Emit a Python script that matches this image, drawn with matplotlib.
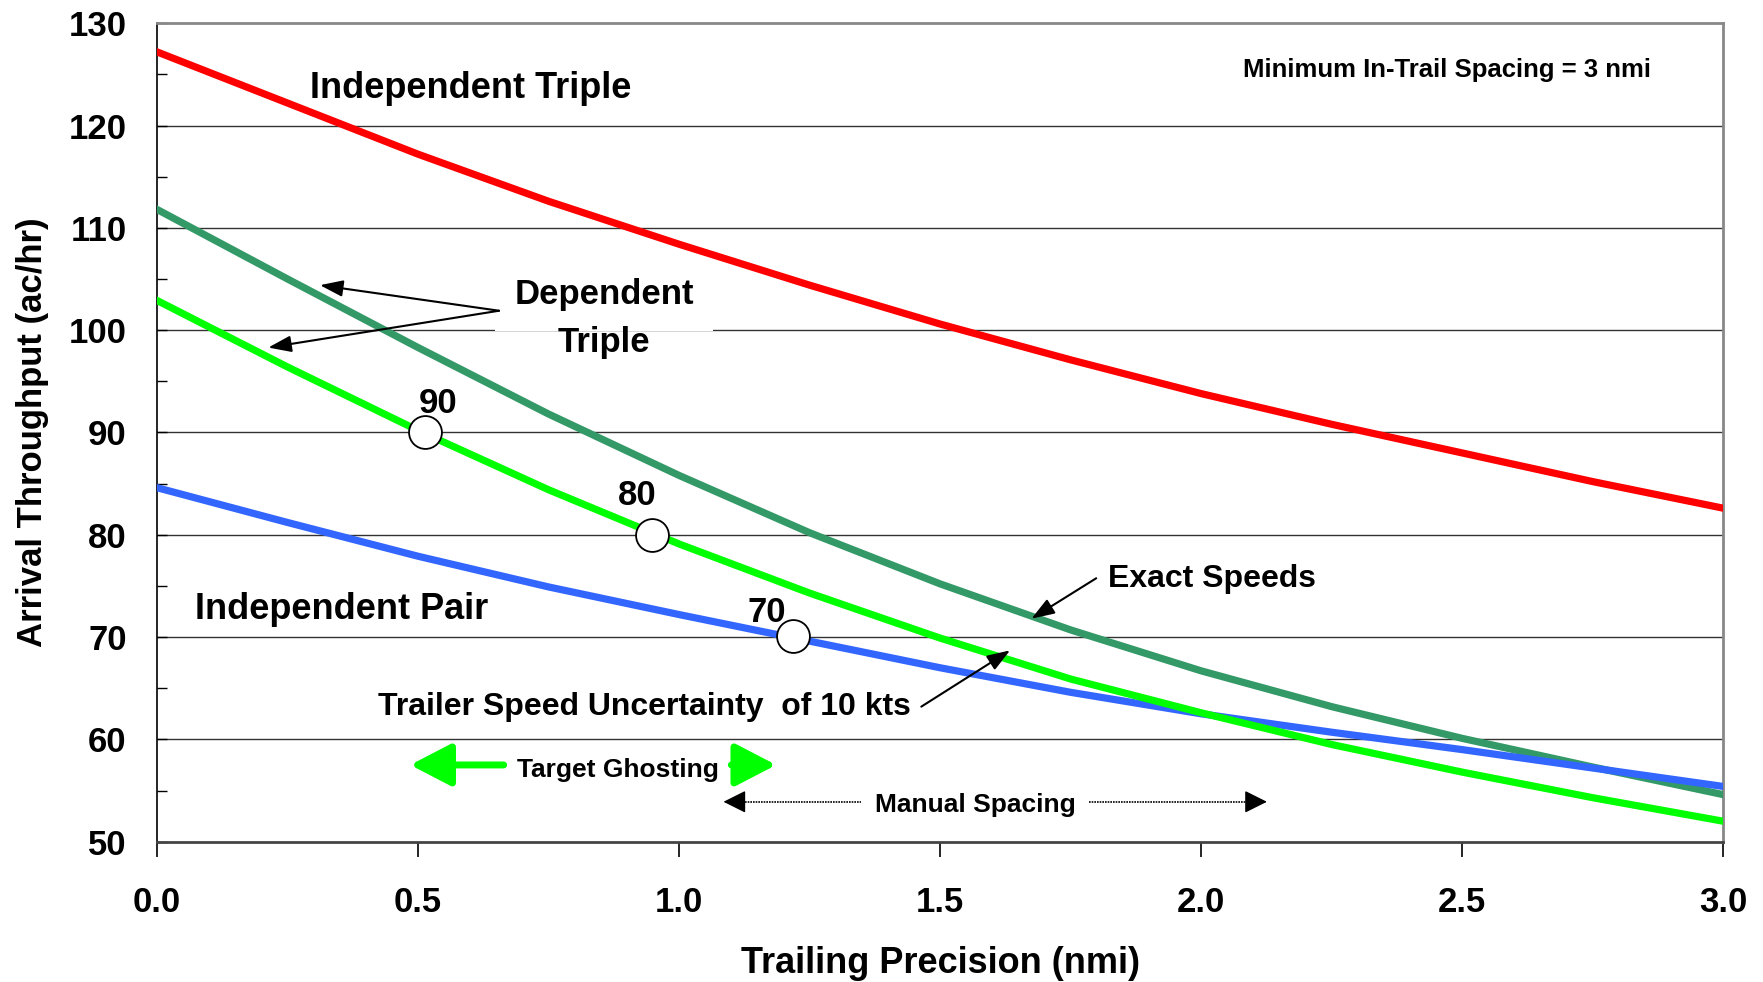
import matplotlib.pyplot as plt
from matplotlib.ticker import MultipleLocator

plt.rcParams['font.family'] = ['Liberation Sans', 'DejaVu Sans']
plt.rcParams['font.weight'] = 'bold'

# trailing precision (nmi)
x = [0.0, 0.25, 0.5, 0.75, 1.0, 1.25, 1.5, 1.75, 2.0, 2.25, 2.5, 2.75, 3.0]

# arrival throughput (ac/hr)
indep_triple = [127.2, 122.2, 117.2, 112.6, 108.4, 104.4, 100.6, 97.1, 93.8, 90.8, 88.0, 85.2, 82.6]
dep_exact = [111.8, 105.0, 98.3, 91.8, 85.8, 80.2, 75.2, 70.7, 66.7, 63.2, 60.1, 57.3, 54.6]
dep_uncert = [102.9, 96.4, 90.2, 84.4, 79.1, 74.3, 69.9, 65.9, 62.6, 59.5, 56.8, 54.3, 52.0]
indep_pair = [84.6, 81.2, 77.9, 74.9, 72.2, 69.6, 67.0, 64.6, 62.5, 60.7, 59.0, 57.2, 55.4]

# speed markers (kts) on the uncertainty / pair curves
mark_x = [0.513, 0.949, 1.219]
mark_y = [90.0, 80.0, 70.1]
mark_lab = ['90', '80', '70']

fig = plt.figure(figsize=(17.63, 9.82), dpi=100)
ax = fig.add_axes([0.0891, 0.1429, 0.8883, 0.8334])

ax.set_xlim(0, 3)
ax.set_ylim(50, 130)
for yv in range(60, 130, 10):
    ax.axhline(yv, color='#333333', lw=1.0, zorder=1)

ax.plot(x, indep_triple, color='#ff0000', lw=5.2, zorder=3)
ax.plot(x, dep_exact, color='#339966', lw=5.2, zorder=3)
ax.plot(x, indep_pair, color='#3366ff', lw=5.2, zorder=3)
ax.plot(x, dep_uncert, color='#00ff00', lw=5.2, zorder=3)

ax.scatter(mark_x, mark_y, s=560, facecolor='white', edgecolor='black', lw=1.3, zorder=5)
lab_x = [0.538, 0.920, 1.168]
lab_y = [91.9, 82.9, 71.5]
for lx, ly, lab in zip(lab_x, lab_y, mark_lab):
    ax.text(lx, ly, lab, fontsize=25, ha='center', va='baseline', zorder=6)

head = dict(arrowstyle='-|>,head_length=1.4,head_width=0.5', color='black', lw=1.5,
            shrinkA=0, shrinkB=0)

ax.text(0.293, 122.7, 'Independent Triple', fontsize=26, va='baseline', ha='left')

ax.text(0.856, 102.55, 'Dependent', fontsize=25, va='baseline', ha='center', zorder=4,
        bbox=dict(facecolor='white', edgecolor='none', pad=14))
ax.text(0.856, 97.86, 'Triple', fontsize=25, va='baseline', ha='center', zorder=4)
for tx, ty in [(0.312, 104.4), (0.213, 98.3)]:
    ax.annotate('', xy=(tx, ty), xytext=(0.655, 101.9), arrowprops=head, zorder=6)

ax.text(0.0724, 71.74, 'Independent Pair', fontsize=26, va='baseline', ha='left')

ax.text(1.8215, 74.93, 'Exact Speeds', fontsize=23, va='baseline', ha='left')
ax.annotate('', xy=(1.675, 71.8), xytext=(1.799, 75.75), arrowprops=head, zorder=6)

ax.text(1.444, 62.39, 'Trailer Speed Uncertainty  of 10 kts', fontsize=23,
        va='baseline', ha='right')
ax.annotate('', xy=(1.634, 68.7), xytext=(1.464, 63.2), arrowprops=head, zorder=6)

ax.text(2.471, 124.78, 'Minimum In-Trail Spacing = 3 nmi', fontsize=18.5,
        va='baseline', ha='center')

# target ghosting range
ax.text(0.882, 56.35, 'Target Ghosting', fontsize=19, va='baseline', ha='center')
ghost = dict(arrowstyle='-|>,head_length=2.5,head_width=1.3', color='#00ff00', lw=5,
             shrinkA=0, shrinkB=0)
ax.annotate('', xy=(0.485, 57.5), xytext=(0.664, 57.5), arrowprops=ghost)
ax.annotate('', xy=(1.186, 57.5), xytext=(1.100, 57.5), arrowprops=ghost)

# manual spacing range
ax.text(1.567, 52.93, 'Manual Spacing', fontsize=19, va='baseline', ha='center')
ax.plot([1.11, 1.349], [53.9, 53.9], color='black', lw=1.2, ls=(0, (1, 0.6)))
ax.plot([1.785, 2.10], [53.9, 53.9], color='black', lw=1.2, ls=(0, (1, 0.6)))
tip = dict(arrowstyle='-|>,head_length=1.4,head_width=0.7', color='black', lw=1,
           shrinkA=0, shrinkB=0)
ax.annotate('', xy=(1.085, 53.9), xytext=(1.115, 53.9), arrowprops=tip)
ax.annotate('', xy=(2.126, 53.9), xytext=(2.096, 53.9), arrowprops=tip)

ax.xaxis.set_major_locator(MultipleLocator(0.5))
ax.yaxis.set_major_locator(MultipleLocator(10))
ax.yaxis.set_minor_locator(MultipleLocator(5))
ax.set_xticklabels([f'{v:.1f}' for v in ax.get_xticks()])
ax.tick_params(axis='x', direction='out', length=11, width=1.2, pad=21, labelsize=25)
ax.tick_params(axis='y', which='both', direction='in', length=7, width=1.0, pad=22, labelsize=25)

ax.set_xlabel('Trailing Precision (nmi)', fontsize=26, fontweight='bold')
ax.xaxis.set_label_coords(0.5, -0.128)
ax.set_ylabel('Arrival Throughput (ac/hr)', fontsize=25, fontweight='bold')
ax.yaxis.set_label_coords(-0.069, 0.5)

for s in ['top', 'right']:
    ax.spines[s].set_color('#888888')
    ax.spines[s].set_linewidth(2)
ax.spines['bottom'].set_color('#444444')
ax.spines['bottom'].set_linewidth(2)
ax.spines['left'].set_color('black')
ax.spines['left'].set_linewidth(1.2)

fig.savefig('out.png', dpi=100)
